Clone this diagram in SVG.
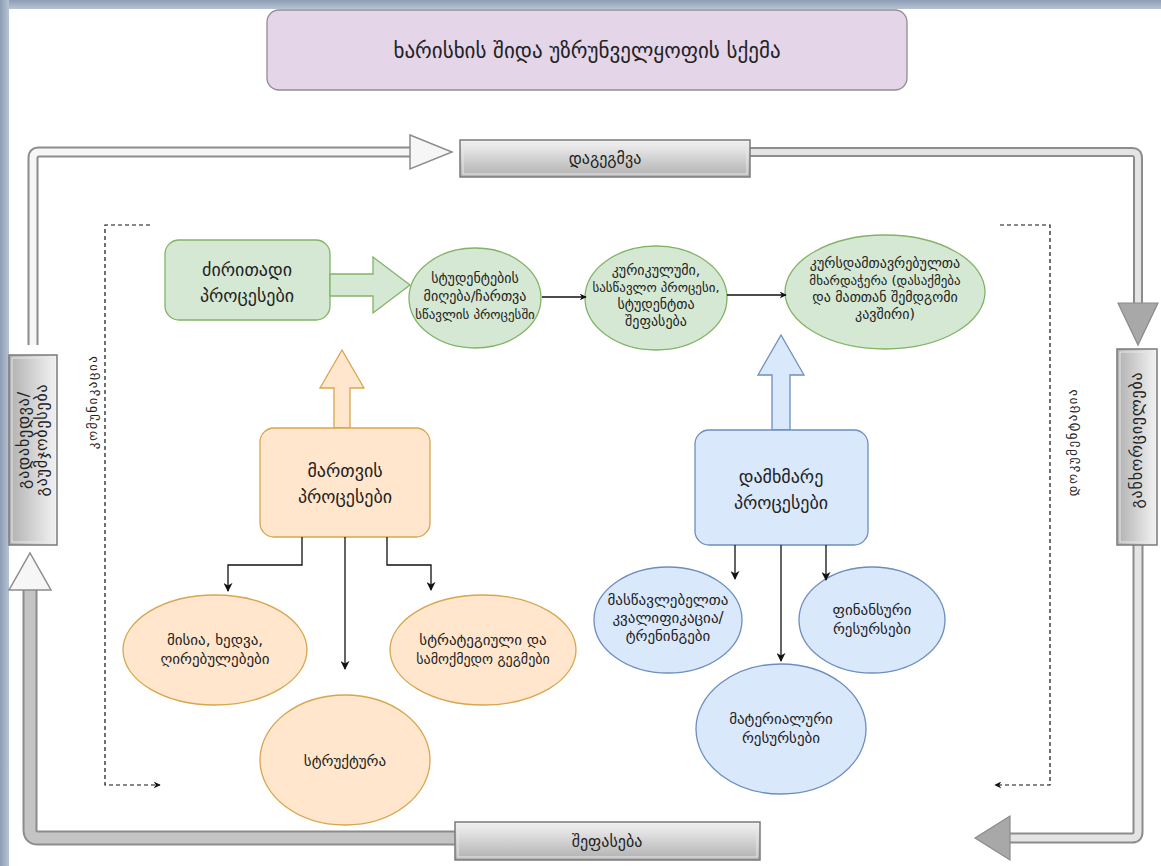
<svg xmlns="http://www.w3.org/2000/svg" width="1161" height="866" viewBox="0 0 1161 866">
<defs>
  <linearGradient id="gv" x1="0" y1="0" x2="0" y2="1">
    <stop offset="0" stop-color="#f4f4f4"/>
    <stop offset="1" stop-color="#b0b0b0"/>
  </linearGradient>
  <linearGradient id="gh" x1="1" y1="0" x2="0" y2="0">
    <stop offset="0" stop-color="#f4f4f4"/>
    <stop offset="1" stop-color="#b0b0b0"/>
  </linearGradient>
  <linearGradient id="frameT" x1="0" y1="0" x2="0" y2="1">
    <stop offset="0" stop-color="#8d9db4"/>
    <stop offset="1" stop-color="#b7c3d3"/>
  </linearGradient>
  <linearGradient id="frameL" x1="0" y1="0" x2="1" y2="0">
    <stop offset="0" stop-color="#8d9db4"/>
    <stop offset="1" stop-color="#b7c3d3"/>
  </linearGradient>
  <marker id="ah" viewBox="0 0 10 10" refX="9" refY="5" markerWidth="7" markerHeight="7" orient="auto" markerUnits="userSpaceOnUse">
    <path d="M0,0 L10,5 L0,10 L3,5 Z" fill="#111"/>
  </marker>
  <marker id="ahs" viewBox="0 0 10 10" refX="9" refY="5" markerWidth="9" markerHeight="9" orient="auto" markerUnits="userSpaceOnUse">
    <path d="M0,0 L10,5 L0,10 L3,5 Z" fill="#111"/>
  </marker>
</defs>
<style>
  text { font-family: "DejaVu Sans", "Noto Sans", sans-serif; fill: #222; text-anchor: middle; }
  .t13 { font-size: 14px; }
  .t14 { font-size: 15px; }
  .t15 { font-size: 18px; }
  .tc { font-size: 16px; }
  .rot { font-size: 16px; letter-spacing: 0.8px; }
  .side { font-size: 13px; letter-spacing: 1.5px; }
  .green { fill: #d5e8d4; stroke: #82b366; stroke-width: 1.3; }
  .orange { fill: #ffe6cc; stroke: #d7a64f; stroke-width: 1.3; }
  .blue { fill: #dae8fc; stroke: #6c8ebf; stroke-width: 1.3; }
  .gbox { stroke: #7a7a7a; stroke-width: 1.5; }
  .ginner { fill: none; stroke: #e8e8e8; stroke-width: 1; }
  .conn { fill: none; stroke: #111; stroke-width: 1.3; }
  .dash { fill: none; stroke: #111; stroke-width: 1.2; stroke-dasharray: 4 3; }
</style>

<!-- frame -->
<rect x="0" y="0" width="1161" height="866" fill="#ffffff"/>
<rect x="0" y="0" width="1161" height="9" fill="url(#frameT)"/>
<rect x="0" y="0" width="9" height="866" fill="url(#frameL)"/>

<!-- title -->
<g id="title">
  <rect x="267" y="10" width="640" height="80" rx="12" fill="#e4d5e8" stroke="#8f8f8f" stroke-width="1.3"/>
  <text x="587" y="58" style="font-size:21px">ხარისხის შიდა უზრუნველყოფის სქემა</text>
</g>

<!-- cycle connectors -->
<g id="cycle">
  <path d="M33,345 L33,158 Q33,152 39,152 L412,152" fill="none" stroke="#8c8c8c" stroke-width="11"/>
  <path d="M33,345 L33,158 Q33,152 39,152 L414,152" fill="none" stroke="#f6f6f6" stroke-width="7"/>
  <polygon points="410,135 452,152 410,169" fill="#f6f6f6" stroke="#8c8c8c" stroke-width="1.5"/>
  <path d="M750,152 L1132,152 Q1138,152 1138,158 L1138,305" fill="none" stroke="#8c8c8c" stroke-width="10"/>
  <path d="M750,152 L1132,152 Q1138,152 1138,158 L1138,305" fill="none" stroke="#e4e4e4" stroke-width="6"/>
  <polygon points="1118,303 1158,303 1138,345" fill="#a8a8a8" stroke="#8a8a8a" stroke-width="1.2"/>
  <path d="M1138,545 L1138,832 Q1138,838 1132,838 L1005,838" fill="none" stroke="#8c8c8c" stroke-width="11"/>
  <path d="M1138,545 L1138,832 Q1138,838 1132,838 L1005,838" fill="none" stroke="#e4e4e4" stroke-width="7"/>
  <polygon points="1010,816 1010,860 975,838" fill="#a8a8a8" stroke="#8a8a8a" stroke-width="1.2"/>
  <path d="M455,838 L38,838 Q30,838 30,830 L30,588" fill="none" stroke="#8c8c8c" stroke-width="15"/>
  <path d="M455,838 L38,838 Q30,838 30,830 L30,588" fill="none" stroke="#c4c4c4" stroke-width="11"/>
  <polygon points="9,590 51,590 30,553" fill="#f6f6f6" stroke="#8c8c8c" stroke-width="1.5"/>
</g>

<!-- cycle boxes -->
<g id="planning">
  <rect x="460" y="140" width="290" height="37" fill="url(#gv)" class="gbox"/>
  <rect x="463" y="143" width="284" height="31" class="ginner"/>
  <text x="605" y="164" class="tc">დაგეგმვა</text>
</g>
<g id="implementation">
  <rect x="1117" y="349" width="40" height="196" fill="url(#gh)" class="gbox"/>
  <rect x="1120" y="352" width="34" height="190" class="ginner"/>
  <text transform="translate(1142,440) rotate(-90)" class="rot">განხორციელება</text>
</g>
<g id="evaluation">
  <rect x="455" y="822" width="305" height="38" fill="url(#gv)" class="gbox"/>
  <rect x="458" y="825" width="299" height="32" class="ginner"/>
  <text x="607" y="847" class="tc">შეფასება</text>
</g>
<g id="revision">
  <rect x="9" y="355" width="48" height="190" fill="url(#gh)" class="gbox"/>
  <rect x="12" y="358" width="42" height="184" class="ginner"/>
  <text transform="translate(29,440) rotate(-90)" class="rot">გადახედვა/</text>
  <text transform="translate(47,440) rotate(-90)" class="rot">გაუმჯობესება</text>
</g>

<!-- side labels -->
<g id="communication">
  <text transform="translate(97,402) rotate(-90)" class="side">კომუნიკაცია</text>
</g>
<g id="documentation">
  <text transform="translate(1077,442) rotate(-90)" class="side">დოკუმენტაცია</text>
</g>

<!-- main processes -->
<g id="main-processes">
  <rect x="165" y="240" width="165" height="80" rx="14" class="green"/>
  <text x="247" y="276" class="t15">ძირითადი</text>
  <text x="247" y="302" class="t15">პროცესები</text>
</g>
<g id="main-arrow">
  <polygon points="330,274 373,274 373,257 410,285 373,313 373,296 330,296" class="green"/>
</g>
<g id="admission">
  <ellipse cx="475" cy="298" rx="66" ry="50" class="green"/>
  <text x="475" y="283" class="t13">სტუდენტების</text>
  <text x="475" y="301" class="t13">მიღება/ჩართვა</text>
  <text x="475" y="319" class="t13" style="font-size:13px">სწავლის პროცესში</text>
</g>
<g id="curriculum">
  <ellipse cx="656" cy="298" rx="71" ry="52" class="green"/>
  <text x="656" y="275" class="t13">კურიკულუმი,</text>
  <text x="656" y="292" class="t13" style="font-size:13px">სასწავლო პროცესი,</text>
  <text x="656" y="309" class="t13">სტუდენტთა</text>
  <text x="656" y="326" class="t13">შეფასება</text>
</g>
<g id="alumni">
  <ellipse cx="885" cy="292" rx="100" ry="57" class="green"/>
  <text x="885" y="268" class="t13">კურსდამთავრებულთა</text>
  <text x="885" y="285" class="t13" style="font-size:13px">მხარდაჭერა (დასაქმება</text>
  <text x="885" y="302" class="t13">და მათთან შემდგომი</text>
  <text x="885" y="319" class="t13">კავშირი)</text>
</g>

<!-- management -->
<g id="mgmt-arrow">
  <polygon points="334,428 334,388 320,388 342,350 364,388 350,388 350,428" class="orange"/>
</g>
<g id="management">
  <rect x="260" y="428" width="170" height="109" rx="14" class="orange"/>
  <text x="345" y="477" class="t15">მართვის</text>
  <text x="345" y="503" class="t15">პროცესები</text>
</g>
<g id="mission">
  <ellipse cx="215" cy="650" rx="92" ry="55" class="orange"/>
  <text x="215" y="645" class="t14">მისია, ხედვა,</text>
  <text x="215" y="664" class="t14">ღირებულებები</text>
</g>
<g id="structure">
  <ellipse cx="345" cy="760" rx="85" ry="65" class="orange"/>
  <text x="345" y="766" class="t14">სტრუქტურა</text>
</g>
<g id="strategy">
  <ellipse cx="483" cy="650" rx="93" ry="55" class="orange"/>
  <text x="483" y="645" class="t14">სტრატეგიული და</text>
  <text x="483" y="664" class="t14" style="font-size:14px">სამოქმედო გეგმები</text>
</g>

<!-- support -->
<g id="support-arrow">
  <polygon points="772,430 772,375 758,375 781,335 804,375 790,375 790,430" class="blue"/>
</g>
<g id="support">
  <rect x="695" y="430" width="173" height="115" rx="14" class="blue"/>
  <text x="781" y="483" class="t15">დამხმარე</text>
  <text x="781" y="509" class="t15">პროცესები</text>
</g>
<g id="teachers">
  <ellipse cx="668" cy="620" rx="74" ry="53" class="blue"/>
  <text x="668" y="605" class="t14">მასწავლებელთა</text>
  <text x="668" y="623" class="t14">კვალიფიკაცია/</text>
  <text x="668" y="641" class="t14">ტრენინგები</text>
</g>
<g id="finance">
  <ellipse cx="872" cy="620" rx="73" ry="53" class="blue"/>
  <text x="872" y="615" class="t14">ფინანსური</text>
  <text x="872" y="634" class="t14">რესურსები</text>
</g>
<g id="material">
  <ellipse cx="781" cy="729" rx="85" ry="65" class="blue"/>
  <text x="781" y="724" class="t14">მატერიალური</text>
  <text x="781" y="743" class="t14">რესურსები</text>
</g>

<!-- connectors -->
<g id="connectors">
  <path d="M542,297 L586,297" class="conn" marker-end="url(#ah)"/>
  <path d="M727,295 L786,295" class="conn" marker-end="url(#ah)"/>
  <path d="M302,537 L302,565 L228,565 L228,591" class="conn" marker-end="url(#ahs)"/>
  <path d="M345,537 L345,669" class="conn" marker-end="url(#ahs)"/>
  <path d="M387,537 L387,565 L431,565 L431,590" class="conn" marker-end="url(#ahs)"/>
  <path d="M735,545 L735,579" class="conn" marker-end="url(#ahs)"/>
  <path d="M781,545 L781,661" class="conn" marker-end="url(#ahs)"/>
  <path d="M826,545 L826,580" class="conn" marker-end="url(#ahs)"/>
  <path d="M150,225 L105,225 L105,785 L160,785" class="dash" marker-end="url(#ah)"/>
  <path d="M1000,225 L1050,225 L1050,785 L995,785" class="dash" marker-end="url(#ah)"/>
</g>
</svg>
